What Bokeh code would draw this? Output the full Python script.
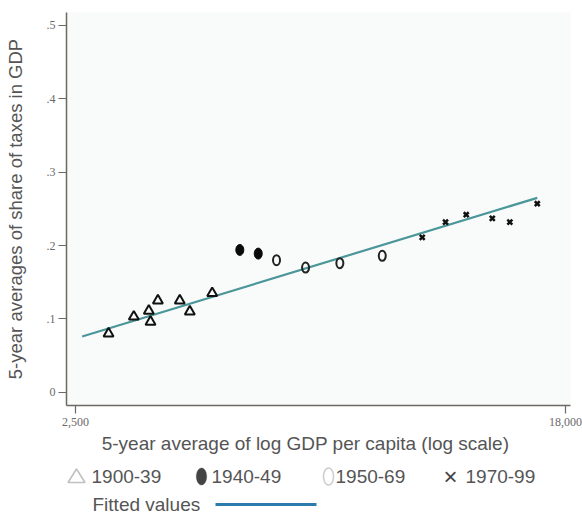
import numpy as np
from bokeh.plotting import figure
from bokeh.layouts import column
from bokeh.models import FixedTicker, Label, PolyAnnotation, BoxAnnotation
from bokeh.embed import file_html
from bokeh.resources import INLINE

# ---- data ----
x_1900 = [2856, 3162, 3359, 3382, 3484, 3805, 3962, 4336]
y_1900 = [0.080, 0.103, 0.111, 0.096, 0.125, 0.125, 0.110, 0.135]
x_1940 = [4846, 5219]
y_1940 = [0.194, 0.189]
x_1950 = [5618, 6316, 7251, 8602]
y_1950 = [0.180, 0.170, 0.176, 0.186]
x_1970 = [10104, 11098, 12062, 13399, 14381, 16060]
y_1970 = [0.211, 0.232, 0.242, 0.237, 0.232, 0.257]
fit_x = [2568, 16060]
fit_y = [0.076, 0.265]

x_ticks = [2500, 18000]
x_tick_labels = ["2,500", "18,000"]
y_ticks = [0, 0.1, 0.2, 0.3, 0.4, 0.5]
y_tick_labels = ["0", ".1", ".2", ".3", ".4", ".5"]
series_labels = ["1900-39", "1940-49", "1950-69", "1970-99"]
fit_label = "Fitted values"
x_title = "5-year average of log GDP per capita (log scale)"
y_title = "5-year averages of share of taxes in GDP"

SANS = "Liberation Sans"
SERIF = "Liberation Serif"
TXT = "#555555"
AX = "#6e6865"

# ---- main chart ----
p = figure(width=582, height=434, x_axis_type="log",
           x_range=(2411, 18360), y_range=(-0.0181, 0.5177),
           min_border_left=66, min_border_right=12, min_border_top=12,
           min_border_bottom=29, output_backend="svg", toolbar_location=None)
p.outline_line_color = None
p.xgrid.visible = False
p.ygrid.visible = False
p.background_fill_color = "#f9fafa"

for ax in (p.xaxis[0], p.yaxis[0]):
    ax.axis_line_color = AX
    ax.axis_line_width = 1.5
    ax.major_tick_line_color = AX
    ax.major_tick_line_width = 1.2
    ax.major_tick_out = 8
    ax.major_tick_in = 0
    ax.minor_tick_line_color = None
    ax.major_label_text_font = SERIF
    ax.major_label_text_font_size = "12px"
    ax.major_label_text_color = "#6a6a6a"

p.xaxis.ticker = FixedTicker(ticks=x_ticks)
p.xaxis.major_label_overrides = dict(zip(x_ticks, x_tick_labels))
p.xaxis.major_label_standoff = 4
p.yaxis.ticker = FixedTicker(ticks=y_ticks)
p.yaxis.major_label_overrides = dict(zip(y_ticks, y_tick_labels))
p.yaxis.major_label_standoff = 3
p.yaxis.axis_label = y_title
p.yaxis.axis_label_text_font = SANS
p.yaxis.axis_label_text_font_size = "18.5px"
p.yaxis.axis_label_text_font_style = "normal"
p.yaxis.axis_label_text_color = TXT
p.yaxis.axis_label_standoff = 18

p.line(fit_x, fit_y, line_color="#4a9699", line_width=2.2)
p.scatter(x_1900, y_1900, marker="triangle", size=10, fill_color=None,
          line_color="#111111", line_width=2)
p.ellipse(x=x_1940, y=y_1940, width=8, height=11, width_units="screen",
          height_units="screen", fill_color="#0a0a0a", line_color="#0a0a0a")
p.ellipse(x=x_1950, y=y_1950, width=7, height=10, width_units="screen",
          height_units="screen", fill_color=None, line_color="#222222", line_width=2)
p.scatter(x_1970, y_1970, marker="x", size=7, line_color="#111111", line_width=2.5)

# ---- x title and legend panel (its frame is aligned with the chart frame: x0 = 66 px) ----
H2 = 82
X0 = 66
q = figure(width=582, height=H2, x_range=(0, 1), y_range=(0, 1),
           min_border=0, min_border_left=0, min_border_right=0,
           min_border_top=0, min_border_bottom=0,
           x_axis_location=None, y_axis_location=None,
           output_backend="svg", toolbar_location=None)
q.outline_line_color = None
q.xgrid.visible = False
q.ygrid.visible = False

q.add_layout(Label(x=305 - X0, y=H2 - 9, x_units="screen", y_units="screen", text=x_title,
                   text_font=SANS, text_font_size="19px", text_color=TXT,
                   text_align="center", text_baseline="middle"))

ry1 = 40
ry2 = 12
lx = [76 - X0, 201 - X0, 328 - X0, 450 - X0]
tx = [91 - X0, 211 - X0, 335 - X0, 465 - X0]

q.add_layout(PolyAnnotation(xs=[lx[0] - 8.5, lx[0] + 8.5, lx[0]],
                            ys=[ry1 - 6, ry1 - 6, ry1 + 7.5],
                            xs_units="screen", ys_units="screen",
                            fill_alpha=0, line_color="#333333", line_width=1.6))
t = np.linspace(0, 2 * np.pi, 40)
q.add_layout(PolyAnnotation(xs=list(lx[1] + 5.2 * np.cos(t)), ys=list(ry1 + 8.5 * np.sin(t)),
                            xs_units="screen", ys_units="screen",
                            fill_color="#444444", fill_alpha=1, line_color="#444444",
                            line_width=1))
q.add_layout(PolyAnnotation(xs=list(lx[2] + 5 * np.cos(t)), ys=list(ry1 + 8.5 * np.sin(t)),
                            xs_units="screen", ys_units="screen",
                            fill_alpha=0, line_color="#555555", line_width=1.5))
q.add_layout(Label(x=lx[3], y=ry1, x_units="screen", y_units="screen", text="×",
                   text_font=SANS, text_font_size="24px", text_color="#444444",
                   text_align="center", text_baseline="middle"))
for xx, lab in zip(tx, series_labels):
    q.add_layout(Label(x=xx, y=ry1, x_units="screen", y_units="screen", text=lab,
                       text_font=SANS, text_font_size="19px", text_color=TXT,
                       text_align="left", text_baseline="middle"))

q.add_layout(Label(x=92 - X0, y=ry2, x_units="screen", y_units="screen", text=fit_label,
                   text_font=SANS, text_font_size="19px", text_color=TXT,
                   text_align="left", text_baseline="middle"))
q.add_layout(BoxAnnotation(left=215 - X0, right=316 - X0, top=ry2 + 1.5, bottom=ry2 - 1.5,
                           left_units="screen", right_units="screen",
                           top_units="screen", bottom_units="screen",
                           fill_color="#2b7bad", fill_alpha=1, line_color=None))

layout = column(p, q, spacing=0)
open("out.html", "w").write(file_html(layout, INLINE))
